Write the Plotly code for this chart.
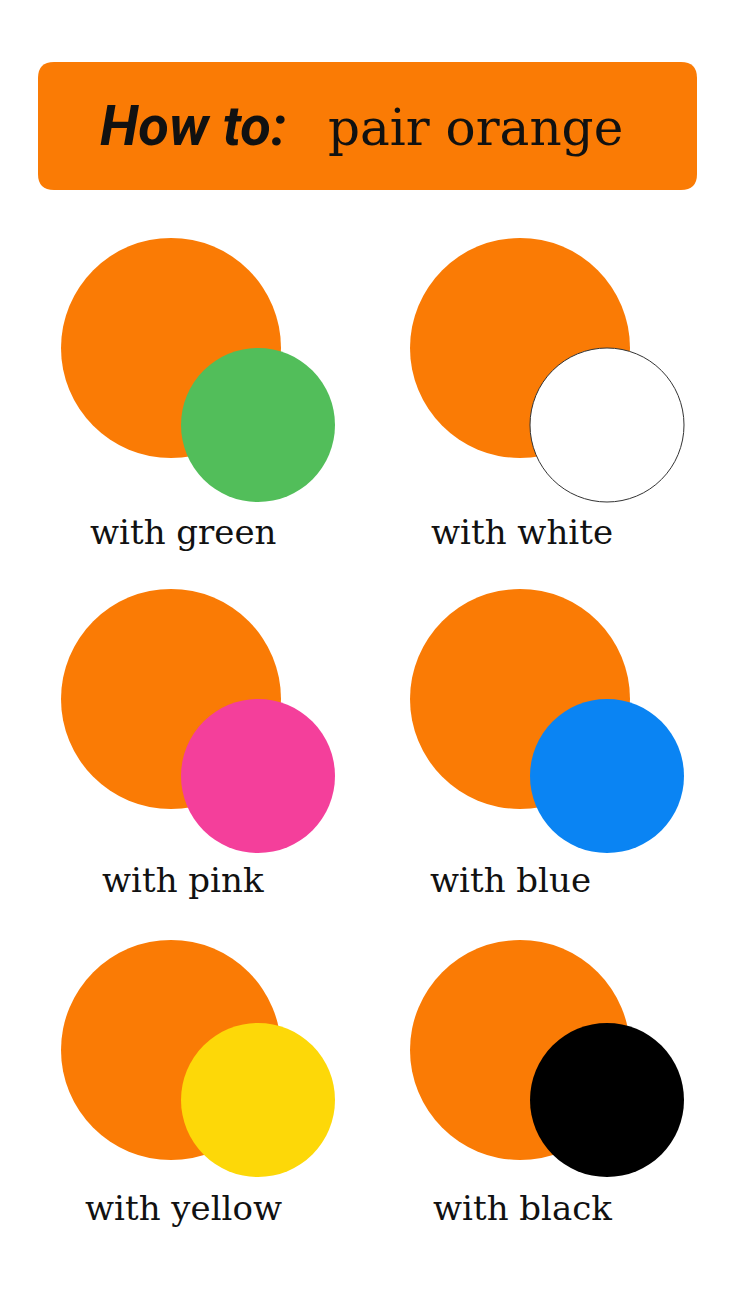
import plotly.graph_objects as go

# pairings shown in the grid (row by row, left then right)
labels = ["with green", "with white", "with pink", "with blue", "with yellow", "with black"]
pair_colors = ["#52BE5A", "#FFFFFF", "#F43F9B", "#0A84F3", "#FDD808", "#000000"]
base_color = "#FA7B05"

W, H = 736, 1308
OFF = 8  # page body margin
col_x = [171, 520]
row_y = [348, 699, 1050]
label_y = [532, 880, 1208]
label_dx = [[12, 2], [12, -10], [12, 2]]

fig = go.Figure()
shapes = []

# banner with rounded corners
x0, x1, y0, y1, r = 38, 697, 62, 190, 16
path = (f"M{x0+r},{y0} L{x1-r},{y0} Q{x1},{y0} {x1},{y0+r} L{x1},{y1-r} Q{x1},{y1} {x1-r},{y1} "
        f"L{x0+r},{y1} Q{x0},{y1} {x0},{y1-r} L{x0},{y0+r} Q{x0},{y0} {x0+r},{y0} Z")
shapes.append(dict(type="path", path=path, fillcolor=base_color, line=dict(width=0), layer="below"))

for i, (lab, col) in enumerate(zip(labels, pair_colors)):
    row, c = divmod(i, 2)
    cx, cy = col_x[c], row_y[row]
    R = 110
    shapes.append(dict(type="circle", x0=cx - R, x1=cx + R, y0=cy - R, y1=cy + R,
                       fillcolor=base_color, line=dict(width=0)))
    sx, sy, sr = cx + 87, cy + 77 if row < 2 else cy + 50, 77
    shapes.append(dict(type="circle", x0=sx - sr, x1=sx + sr, y0=sy - sr, y1=sy + sr,
                       fillcolor=col,
                       line=dict(width=1, color="#333333") if col == "#FFFFFF" else dict(width=0)))
    fig.add_annotation(x=cx + label_dx[row][c], y=label_y[row], text=lab, showarrow=False,
                       font=dict(family="DejaVu Serif", size=34, color="#111111"))

fig.add_annotation(x=98, y=126, xanchor="left", showarrow=False,
                   text="<b><i>How to:</i></b>",
                   font=dict(family="Roboto", size=56, color="#111111"))
fig.add_annotation(x=326, y=128, xanchor="left", showarrow=False,
                   text="pair orange",
                   font=dict(family="DejaVu Serif", size=50, color="#111111"))

fig.update_layout(
    width=W, height=H, margin=dict(l=0, r=0, t=0, b=0),
    paper_bgcolor="white", plot_bgcolor="white", shapes=shapes, showlegend=False,
    xaxis=dict(range=[OFF, W + OFF], visible=False, fixedrange=True),
    yaxis=dict(range=[H + OFF, OFF], visible=False, fixedrange=True),
)
fig.write_html("out.html")
